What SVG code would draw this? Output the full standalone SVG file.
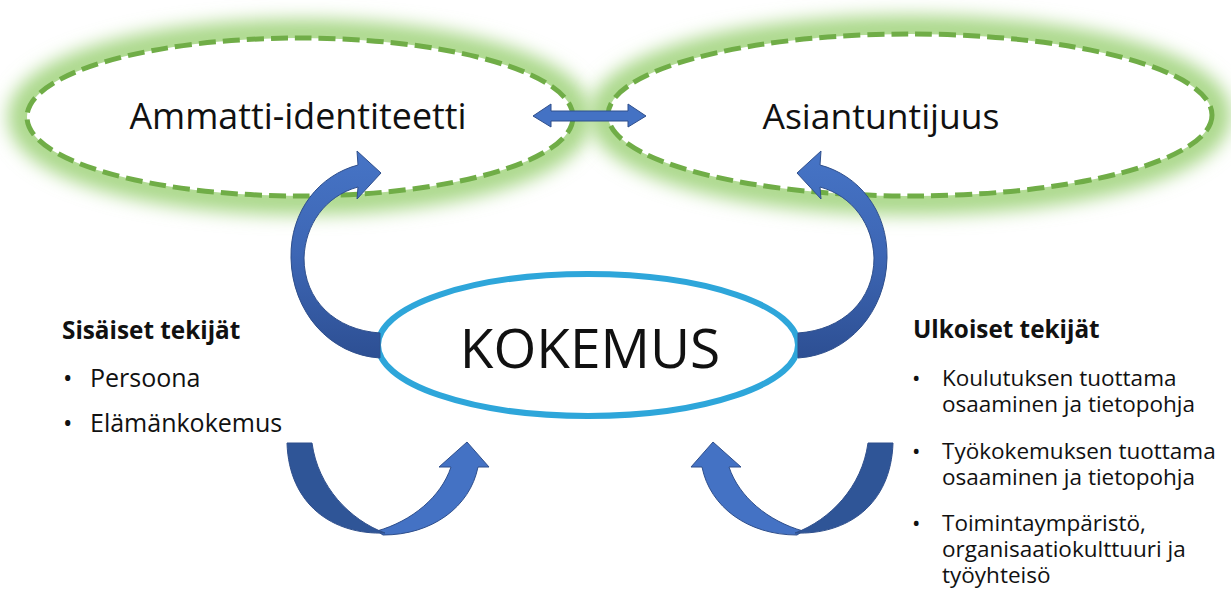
<svg xmlns="http://www.w3.org/2000/svg" width="1231" height="592" viewBox="0 0 1231 592">
<style>
.glow{fill:none;stroke:#AAD88A;stroke-width:30;filter:url(#blur)}
.green{fill:#FFFFFF;stroke:#70AD47;stroke-width:5;stroke-dasharray:17 7}
.big{font-family:"Open Sans","Noto Sans","DejaVu Sans",sans-serif;fill:#111111;text-anchor:middle}
.side{font-family:"Open Sans","Noto Sans","DejaVu Sans",sans-serif;fill:#111111}
.hd{font-weight:bold;font-size:24.3px}
.arrow{stroke:#2F4F8C;stroke-width:1;stroke-linejoin:round}
</style>
<defs>
<filter id="blur" x="-20%" y="-50%" width="140%" height="200%"><feGaussianBlur stdDeviation="9"/></filter>
<linearGradient id="gTop" x1="0" y1="0" x2="0" y2="1">
<stop offset="0" stop-color="#4674C6"/>
<stop offset="0.5" stop-color="#3D66B4"/>
<stop offset="1" stop-color="#2D4F93"/>
</linearGradient>
</defs>

<g id="glow">
<ellipse class="glow" cx="300" cy="117" rx="277" ry="83"/>
<ellipse class="glow" cx="910" cy="115" rx="306" ry="85"/>
</g>

<g id="node-ammatti">
<ellipse class="green" cx="300" cy="117" rx="273" ry="79"/>
<text class="big" x="298" y="129" font-size="35.8">Ammatti-identiteetti</text>
</g>

<g id="node-asiantuntijuus">
<ellipse class="green" cx="910" cy="115" rx="302" ry="81"/>
<text class="big" x="881" y="129" font-size="35.5">Asiantuntijuus</text>
</g>

<g id="node-kokemus">
<ellipse cx="588" cy="345" rx="210" ry="71" fill="#FFFFFF" stroke="#2EA6DA" stroke-width="6"/>
<text class="big" x="590" y="368" font-size="55">KOKEMUS</text>
</g>

<g id="connectors">
<path class="arrow" fill="#4472C4" d="M533,116 L551,104 L551,111 L628,111 L628,104 L646,116 L628,127 L628,121 L551,121 L551,127 Z"/>
<g id="arrow-top-left">
<path class="arrow" fill="url(#gTop)" d="M380,358 C330,355 292,312 291,258 C290,210 320,175 358,165 L357,151 L381,173 L357,199 L358,187 C325,196 305,225 304,258 C304,300 335,330 380,333 Z"/>
</g>
<g id="arrow-top-right" transform="matrix(-1 0 0 1 1178 0)">
<path class="arrow" fill="url(#gTop)" d="M380,358 C330,355 292,312 291,258 C290,210 320,175 358,165 L357,151 L381,173 L357,199 L358,187 C325,196 305,225 304,258 C304,300 335,330 380,333 Z"/>
</g>
<g id="arrow-bottom-left">
<path class="arrow" fill="#4472C4" d="M377,531 C412,521 441,497 451,467 L439,467 L467,442 L489,467 L478,467 C470,507 432,535 383,535 Z"/>
<path class="arrow" fill="#2F5597" d="M287,443 L312,443 C318,487 350,520 385,533 C333,535 289,505 287,443 Z"/>
</g>
<g id="arrow-bottom-right" transform="matrix(-1 0 0 1 1180 0)">
<path class="arrow" fill="#4472C4" d="M377,531 C412,521 441,497 451,467 L439,467 L467,442 L489,467 L478,467 C470,507 432,535 383,535 Z"/>
<path class="arrow" fill="#2F5597" d="M287,443 L312,443 C318,487 350,520 385,533 C333,535 289,505 287,443 Z"/>
</g>
</g>

<g id="sisaiset">
<text class="side hd" x="62" y="339">Sisäiset tekijät</text>
<text class="side" font-size="25" x="63" y="387">•</text>
<text class="side" font-size="25" x="90" y="387">Persoona</text>
<text class="side" font-size="25" x="63" y="432">•</text>
<text class="side" font-size="25" x="90" y="432">Elämänkokemus</text>
</g>

<g id="ulkoiset">
<text class="side hd" x="913" y="338">Ulkoiset tekijät</text>
<g font-size="22.5">
<text class="side" x="912" y="386">•</text>
<text class="side" x="942" y="386">Koulutuksen tuottama<tspan x="942" dy="26">osaaminen ja tietopohja</tspan></text>
<text class="side" x="912" y="459">•</text>
<text class="side" x="942" y="459">Työkokemuksen tuottama<tspan x="942" dy="26">osaaminen ja tietopohja</tspan></text>
<text class="side" x="912" y="531">•</text>
<text class="side" x="942" y="531">Toimintaympäristö,<tspan x="942" dy="26">organisaatiokulttuuri ja</tspan><tspan x="942" dy="26">työyhteisö</tspan></text>
</g>
</g>
</svg>
